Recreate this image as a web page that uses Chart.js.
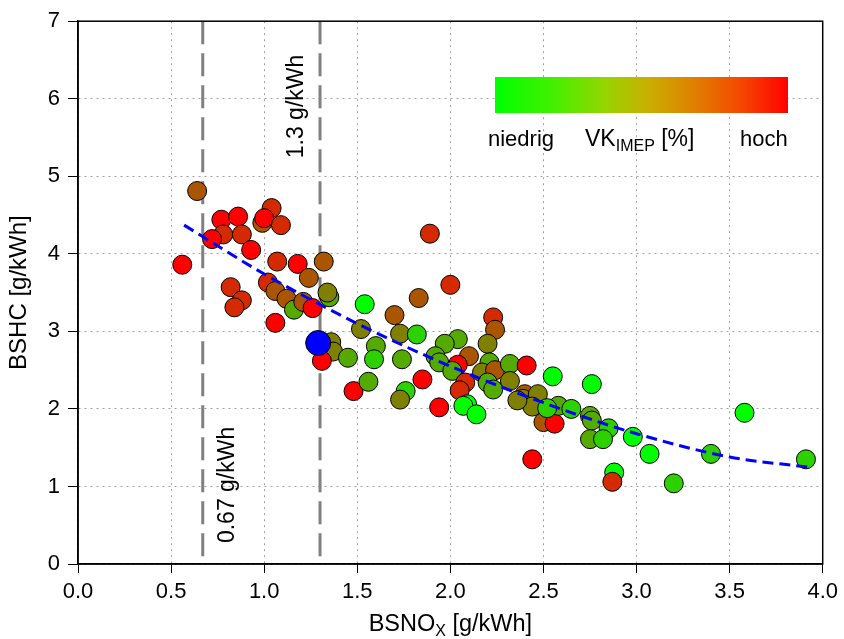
<!DOCTYPE html>
<html><head><meta charset="utf-8">
<script src="https://cdn.jsdelivr.net/npm/chart.js@4.4.1/dist/chart.umd.min.js"></script>
<style>html,body{margin:0;padding:0;background:#fff}#wrap{width:844px;height:639px;position:relative}</style>
</head><body><div id="wrap"><canvas id="c" width="844" height="639"></canvas></div>
<script>
// ---- data ----
const xTickLabels = ['0.0','0.5','1.0','1.5','2.0','2.5','3.0','3.5','4.0'];
const yTickLabels = ['0','1','2','3','4','5','6','7'];
// measured points: BSNOx [g/kWh], BSHC [g/kWh], VK_IMEP level (0 = niedrig ... 6 = hoch)
const ptX = [0.64,0.77,0.86,0.78,0.72,0.88,1.04,0.99,1.00,1.09,0.93,0.56,1.07,1.18,1.32,1.24,1.35,1.34,1.02,1.06,
             1.12,1.16,1.21,1.26,0.82,0.88,0.84,1.06,1.36,1.37,1.31,1.45,1.48,1.54,1.52,1.83,2.00,1.89,1.70,1.73,
             1.82,1.60,1.59,1.74,1.56,1.85,1.76,1.73,1.94,2.23,2.24,2.20,2.04,1.97,1.92,1.94,2.10,2.04,2.01,2.08,
             2.05,2.09,2.07,2.14,2.21,2.17,2.24,2.32,2.32,2.20,2.23,2.41,2.55,2.76,2.40,2.39,2.47,2.44,2.36,2.50,
             2.56,2.58,2.65,2.52,2.75,2.76,2.85,2.75,2.82,2.44,2.88,2.87,2.98,3.07,3.40,3.58,3.91,3.20];
const ptY = [4.81,4.44,4.48,4.25,4.19,4.25,4.59,4.40,4.46,4.37,4.05,3.86,3.90,3.87,3.90,3.69,3.44,3.50,3.63,3.52,
             3.42,3.28,3.38,3.30,3.57,3.40,3.31,3.11,2.86,2.74,2.62,2.66,2.23,3.35,3.03,3.43,3.60,4.26,3.21,2.97,
             2.96,2.81,2.64,2.64,2.35,2.38,2.23,2.12,2.02,3.18,3.02,2.84,2.90,2.84,2.68,2.60,2.68,2.57,2.49,2.34,
             2.24,2.06,2.04,1.93,2.60,2.47,2.50,2.58,2.36,2.34,2.25,2.56,2.42,2.32,2.19,2.13,2.19,2.03,2.11,1.83,
             1.81,2.04,2.00,2.01,1.91,1.85,1.75,1.61,1.61,1.35,1.18,1.06,1.64,1.42,1.42,1.95,1.35,1.04];
const ptLevel = [4,6,6,5,6,5,5,4,6,5,6,6,5,6,4,4,2,3,5,4,
                 4,2,4,6,5,5,5,6,3,3,6,2,6,0,3,4,5,5,4,3,
                 1,2,1,2,2,6,1,3,6,5,4,3,2,2,2,2,4,6,2,5,
                 5,0,0,0,2,3,4,2,3,2,2,6,0,0,4,3,3,3,3,4,
                 6,2,1,1,2,2,1,2,1,6,0,5,0,0,1,0,1,1];
const levelColors = ['#00ff00','#2ed100','#55aa00','#808000','#aa5500','#d52a00','#ff0000'];
// highlighted reference point
const refX = [1.29];
const refY = [2.85];
// fitted trend line
const fitX = [0.57,1.0,1.5,2.0,2.5,3.0,3.5,3.92];
const fitY = [4.37,3.74,3.10,2.55,2.08,1.68,1.38,1.25];
// NOx limit lines
const limitX = [0.67,1.3];
const limitLabels = ['0.67 g/kWh','1.3 g/kWh'];
const legendLow = 'niedrig', legendHigh = 'hoch', legendName = 'VK', legendSub = 'IMEP', legendUnit = ' [%]';

const FONT = '"Liberation Sans", Arial, Helvetica, sans-serif';

const deco = {
  id: 'deco',
  beforeDatasetsDraw(chart) {
    const {ctx, chartArea: a, scales: {x, y}} = chart;
    ctx.save();
    ctx.beginPath(); ctx.rect(a.left, a.top, a.right - a.left, a.bottom - a.top); ctx.clip();
    ctx.strokeStyle = '#808080'; ctx.lineWidth = 3; ctx.setLineDash([23, 9]);
    limitX.forEach(v => {
      const px = x.getPixelForValue(v);
      ctx.beginPath(); ctx.moveTo(px, a.top); ctx.lineTo(px, a.bottom); ctx.stroke();
    });
    ctx.restore();
    // rotated labels
    ctx.save();
    ctx.fillStyle = '#000'; ctx.font = '23px ' + FONT;
    ctx.textAlign = 'center'; ctx.textBaseline = 'middle';
    const l0 = x.getPixelForValue(limitX[0]);
    ctx.save(); ctx.translate(l0 + 25, y.getPixelForValue(1.02)); ctx.rotate(-Math.PI / 2);
    ctx.fillText(limitLabels[0], 0, 0); ctx.restore();
    const l1 = x.getPixelForValue(limitX[1]);
    ctx.save(); ctx.translate(l1 - 23, y.getPixelForValue(5.9)); ctx.rotate(-Math.PI / 2);
    ctx.fillText(limitLabels[1], 0, 0); ctx.restore();
    ctx.restore();
  },
  afterDraw(chart) {
    const {ctx, chartArea: a} = chart;
    ctx.save();
    // frame
    ctx.strokeStyle = '#000'; ctx.lineWidth = 1.5; ctx.setLineDash([]);
    ctx.strokeRect(a.left, a.top, a.right - a.left, a.bottom - a.top);
    // colour bar
    const bx = 495, by = 77, bw = 293, bh = 36;
    const g = ctx.createLinearGradient(bx, 0, bx + bw, 0);
    g.addColorStop(0, '#00ff00');
    g.addColorStop(0.2, '#44f000');
    g.addColorStop(0.38, '#98d400');
    g.addColorStop(0.52, '#c8b000');
    g.addColorStop(0.68, '#e08000');
    g.addColorStop(0.85, '#f64400');
    g.addColorStop(1, '#ff0000');
    ctx.fillStyle = g; ctx.fillRect(bx, by, bw, bh);
    // legend text
    ctx.fillStyle = '#000'; ctx.textBaseline = 'alphabetic';
    ctx.font = '22px ' + FONT; ctx.textAlign = 'left';
    ctx.fillText(legendLow, 488, 146);
    ctx.fillText(legendHigh, 740, 146);
    let tx = 585;
    ctx.font = '23px ' + FONT;
    ctx.fillText(legendName, tx, 146); tx += ctx.measureText(legendName).width;
    ctx.font = '16px ' + FONT; ctx.fillText(legendSub, tx, 151); tx += ctx.measureText(legendSub).width;
    ctx.font = '23px ' + FONT; ctx.fillText(legendUnit, tx, 146);
    // x title with subscript
    const p1 = 'BSNO', p2 = 'X', p3 = ' [g/kWh]';
    ctx.font = '23.5px ' + FONT; const w1 = ctx.measureText(p1).width, w3 = ctx.measureText(p3).width;
    ctx.font = '16px ' + FONT; const w2 = ctx.measureText(p2).width;
    let sx = (a.left + a.right) / 2 - (w1 + w2 + w3) / 2;
    ctx.font = '23.5px ' + FONT; ctx.fillText(p1, sx, 631); sx += w1;
    ctx.font = '16px ' + FONT; ctx.fillText(p2, sx, 636); sx += w2;
    ctx.font = '23.5px ' + FONT; ctx.fillText(p3, sx, 631);
    // y title
    ctx.save(); ctx.translate(26, (a.top + a.bottom) / 2); ctx.rotate(-Math.PI / 2);
    ctx.textAlign = 'center'; ctx.font = '24px ' + FONT; ctx.fillText('BSHC [g/kWh]', 0, 0);
    ctx.restore();
    ctx.restore();
  }
};

const toPts = (xs, ys) => xs.map((v, i) => ({x: v, y: ys[i]}));

new Chart(document.getElementById('c'), {
  type: 'scatter',
  data: {
    datasets: [
      {type: 'line', data: toPts(fitX, fitY), borderColor: '#0000ff', borderWidth: 3, borderDash: [11, 6],
       pointRadius: 0, fill: false, cubicInterpolationMode: 'monotone'},
      {data: toPts(refX, refY), backgroundColor: '#0000ff', borderColor: '#000', borderWidth: 1, pointRadius: 12.5},
      {data: toPts(ptX, ptY), backgroundColor: ptLevel.map(l => levelColors[l]), borderColor: '#000',
       borderWidth: 1, pointRadius: 9.5}
    ]
  },
  options: {
    responsive: false, animation: false, devicePixelRatio: 1,
    layout: {padding: {left: 0, top: 19, right: 18, bottom: 0}},
    plugins: {legend: {display: false}, tooltip: {enabled: false}},
    scales: {
      x: {type: 'linear', min: 0, max: 4,
          afterBuildTicks: s => { s.ticks = xTickLabels.map(t => ({value: parseFloat(t)})); },
          ticks: {callback: (v, i) => xTickLabels[i], color: '#000', font: {size: 22, family: FONT}, padding: 6, maxRotation: 0},
          grid: {color: '#a0a0a0', lineWidth: 1, tickLength: 9, tickColor: '#000', tickWidth: 1, tickBorderDash: []},
          border: {color: '#000', width: 1.5, dash: [2, 4]},
          afterFit: s => { s.height = 75; }},
      y: {type: 'linear', min: 0, max: 7,
          afterBuildTicks: s => { s.ticks = yTickLabels.map(t => ({value: parseFloat(t)})); },
          ticks: {callback: (v, i) => yTickLabels[i], color: '#000', font: {size: 22, family: FONT}, padding: 8},
          grid: {color: '#a0a0a0', lineWidth: 1, tickLength: 10, tickColor: '#000', tickWidth: 1, tickBorderDash: []},
          border: {color: '#000', width: 1.5, dash: [2, 4]},
          afterFit: s => { s.width = 78; }}
    }
  },
  plugins: [deco]
});
</script></body></html>
